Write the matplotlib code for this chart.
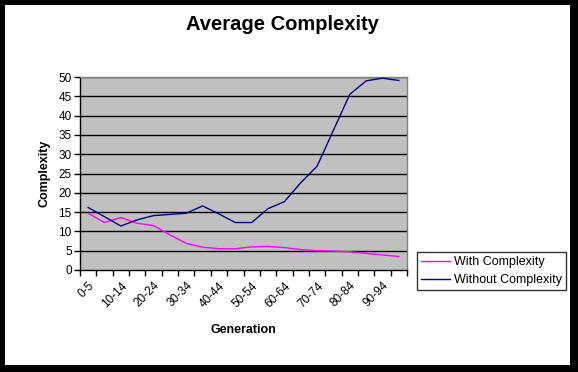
import matplotlib
matplotlib.use("Agg")
import matplotlib.pyplot as plt
from matplotlib.patches import Rectangle
from matplotlib.transforms import ScaledTranslation
import numpy as np

plt.rcParams['font.family'] = ['Liberation Sans', 'DejaVu Sans']

categories = ["0-5", "5-9", "10-14", "15-19", "20-24", "25-29", "30-34", "35-39",
              "40-44", "45-49", "50-54", "55-59", "60-64", "65-69", "70-74", "75-79",
              "80-84", "85-89", "90-94", "95-99"]
with_complexity = [14.7, 12.3, 13.6, 12.1, 11.5, 9.1, 6.9, 5.9, 5.5, 5.5,
                   6.0, 6.1, 5.8, 5.3, 5.0, 4.9, 4.7, 4.3, 3.9, 3.5]
without_complexity = [16.2, 13.8, 11.4, 13.0, 14.1, 14.4, 14.7, 16.6, 14.5, 12.3,
                      12.3, 15.9, 17.7, 22.6, 26.9, 36.2, 45.5, 49.0, 49.7, 49.1]
yticks = [0, 5, 10, 15, 20, 25, 30, 35, 40, 45, 50]

W, H = 578, 372
fig = plt.figure(figsize=(W / 100, H / 100), dpi=100)
fig.patch.set_facecolor('black')
fig.patches.append(Rectangle((5 / W, 7 / H), 565 / W, 360 / H, transform=fig.transFigure,
                             facecolor='white', edgecolor='none', zorder=-10))

ax = fig.add_axes([80 / W, (H - 270) / H, 327 / W, 193 / H])
ax.set_facecolor('#C0C0C0')
x = np.arange(len(categories))

for yv in yticks[1:]:
    ax.axhline(yv, color='black', linewidth=1, zorder=1)

ax.plot(x, with_complexity, color='#FF00FF', linewidth=1, label='With Complexity', zorder=3)
ax.plot(x, without_complexity, color='#000080', linewidth=1, label='Without Complexity', zorder=3)

ax.set_xlim(-0.5, len(categories) - 0.5)
ax.set_ylim(0, 50)
ax.set_yticks(yticks)
ax.set_yticklabels([str(v) for v in yticks], fontsize=8.5)
ax.tick_params(axis='y', direction='out', length=4, width=1, pad=2)

ax.set_xticks(x[::2])
ax.set_xticklabels(categories[::2], rotation=45, ha='right', va='top', fontsize=8.5,
                   rotation_mode='anchor')
offset = ScaledTranslation(-9 / 100, -3 / 100, fig.dpi_scale_trans)
for lbl in ax.get_xticklabels():
    lbl.set_transform(lbl.get_transform() + offset)
ax.set_xticks(np.arange(-0.5, len(categories)), minor=True)
ax.tick_params(axis='x', which='major', length=0, pad=7)
ax.tick_params(axis='x', which='minor', direction='out', length=4, width=1)

for s in ['top', 'right']:
    ax.spines[s].set_color('#808080')
    ax.spines[s].set_linewidth(1)
for s in ['left', 'bottom']:
    ax.spines[s].set_color('black')
    ax.spines[s].set_linewidth(1)

ax.set_ylabel('Complexity', fontsize=9, fontweight='bold', labelpad=6)
fig.text(243 / W, 1 - 330 / H, 'Generation', ha='center', va='center',
         fontsize=9, fontweight='bold')

fig.text(282 / W, 1 - 25 / H, 'Average Complexity', ha='center', va='center',
         fontsize=14.5, fontweight='bold')

leg = fig.legend(loc='upper left', bbox_to_anchor=(417 / W, 1 - 252 / H),
                 bbox_transform=fig.transFigure, fontsize=9, frameon=True,
                 fancybox=False, edgecolor='black', borderpad=0.35, handlelength=2.3,
                 handletextpad=0.3, labelspacing=0.45, borderaxespad=0)
leg.get_frame().set_linewidth(1)

fig.savefig('out.png', dpi=100, facecolor=fig.get_facecolor())
